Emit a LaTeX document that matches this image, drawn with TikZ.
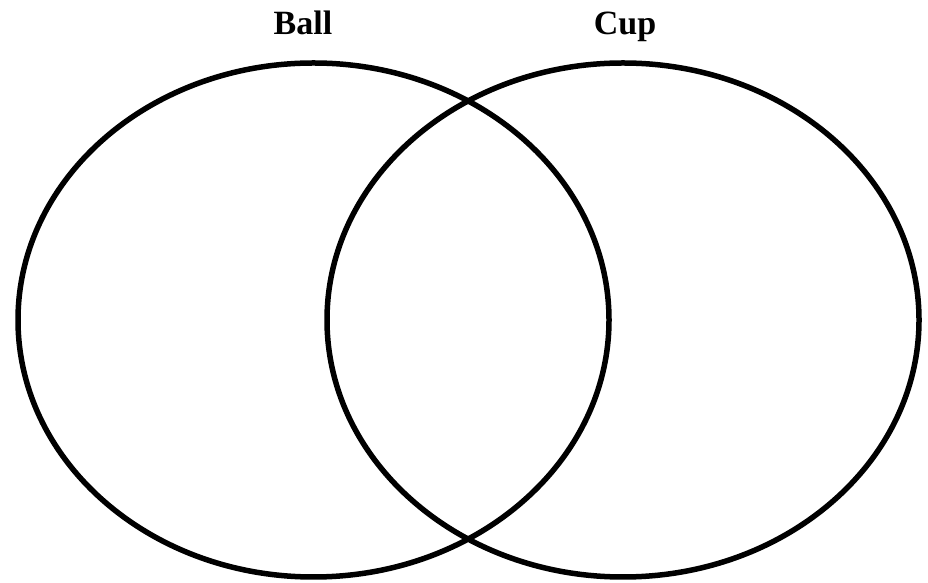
\documentclass[tikz,border=0pt]{standalone}
\usepackage{fontspec}
\setmainfont{Liberation Serif}
\usepackage{tikz}
\usetikzlibrary{positioning}
\tikzset{
  setline/.style={black, line width=5.5pt},
  setlabel/.style={font=\fontsize{34}{34}\selectfont\bfseries, anchor=base}
}

\begin{document}
\begin{tikzpicture}[x=1pt, y=1pt]

\useasboundingbox (0,0) rectangle (928,583);

% Centres of the two sets
\coordinate (ballc) at (313.5, 263);
\coordinate (cupc)  at (623, 263);

% The two ellipses
\draw[setline] (ballc) ellipse [x radius=295.5, y radius=257];
\draw[setline] (cupc)  ellipse [x radius=296, y radius=257];

% Set labels
\node[setlabel] (ball) at (303, 548) {Ball};
\node[setlabel] (cup)  at (625, 548) {Cup};

\end{tikzpicture}
\end{document}
